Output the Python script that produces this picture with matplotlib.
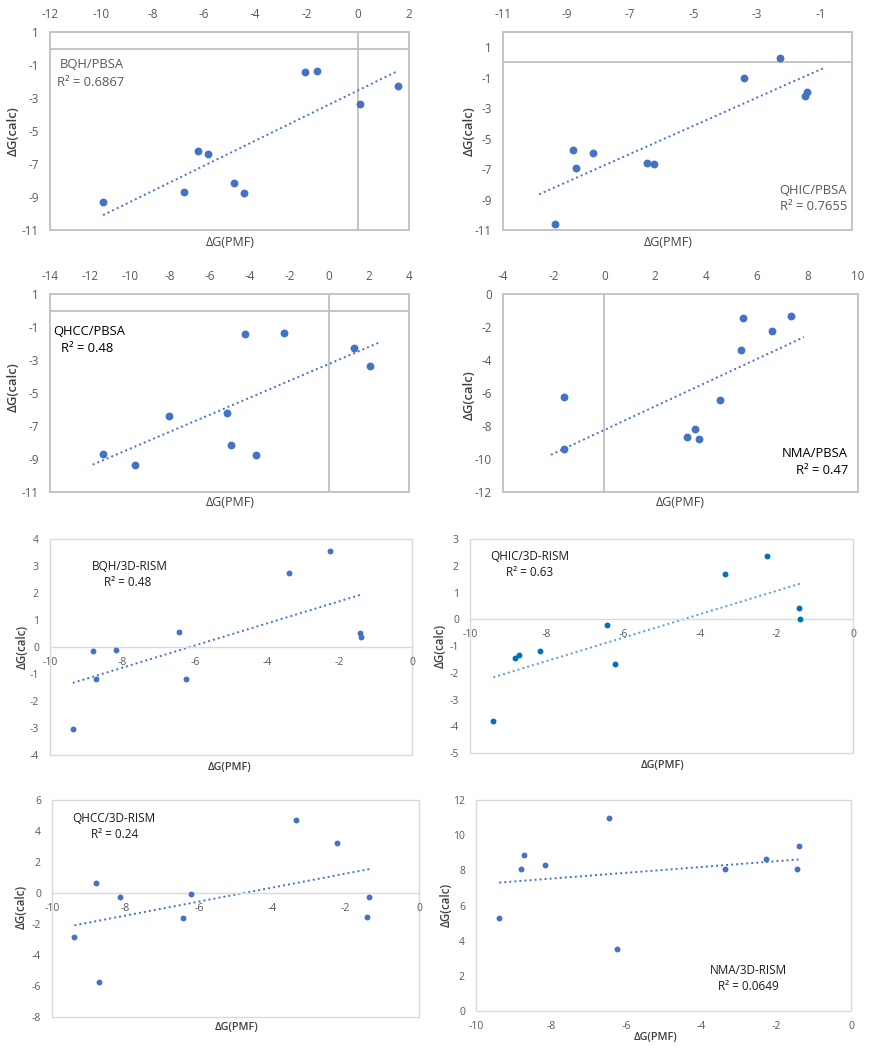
import numpy as np
import matplotlib
matplotlib.use("Agg")
import matplotlib.pyplot as plt
from matplotlib.patches import Rectangle

plt.rcParams['font.family'] = ['Open Sans', 'DejaVu Sans']

W, H = 872, 1050

# ---------------- data ----------------
p1_x = [-9.93, -6.78, -4.45, -4.82, -5.85, -6.21, 0.09, 1.56, -2.07, -1.59]
p1_y = [-9.32, -8.70, -8.78, -8.13, -6.40, -6.22, -3.38, -2.25, -1.40, -1.36]

p2_x = [-9.36, -8.79, -8.71, -8.16, -6.45, -6.24, -3.40, -2.28, -1.48, -1.42]
p2_y = [-10.63, -5.75, -6.93, -5.92, -6.62, -6.69, -1.02, 0.29, -2.20, -1.96]

p3_x = [-9.74, -11.36, -3.65, -4.91, -8.04, -5.13, 2.03, 1.24, -4.22, -2.28]
p3_y = [-9.38, -8.70, -8.78, -8.13, -6.41, -6.23, -3.38, -2.25, -1.42, -1.36]

p4_x = [-1.61, 3.24, 3.73, 3.56, 4.56, -1.58, 5.37, 6.61, 5.48, 7.37]
p4_y = [-9.37, -8.69, -8.81, -8.16, -6.44, -6.22, -3.37, -2.26, -1.43, -1.35]

p5_x = [-9.37, -8.80, -8.72, -8.17, -6.45, -6.24, -3.39, -2.27, -1.45, -1.41]
p5_y = [-3.04, -0.15, -1.20, -0.11, 0.56, -1.20, 2.75, 3.56, 0.53, 0.38]

p6_x = [-9.39, -8.82, -8.71, -8.17, -6.43, -6.22, -3.35, -2.24, -1.42, -1.38]
p6_y = [-3.81, -1.43, -1.35, -1.18, -0.23, -1.68, 1.71, 2.35, 0.42, 0.01]

p7_x = [-9.39, -8.80, -8.72, -8.14, -6.43, -6.20, -3.35, -2.23, -1.41, -1.35]
p7_y = [-2.87, 0.65, -5.71, -0.23, -1.64, -0.06, 4.72, 3.25, -1.58, -0.28]

p8_x = [-9.38, -8.80, -8.73, -8.17, -6.45, -6.23, -3.37, -2.26, -1.43, -1.38]
p8_y = [5.28, 8.08, 8.86, 8.29, 10.99, 3.52, 8.08, 8.65, 8.08, 9.39]

labels = ["BQH/PBSA", "QHIC/PBSA", "QHCC/PBSA", "NMA/PBSA",
          "BQH/3D-RISM", "QHIC/3D-RISM", "QHCC/3D-RISM", "NMA/3D-RISM"]
r2_text = ["R² = 0.6867", "R² = 0.7655", "R² = 0.48", "R² = 0.47",
           "R² = 0.48", "R² = 0.63", "R² = 0.24", "R² = 0.0649"]

x_ticks = [np.arange(-12, 3, 2), np.arange(-11, 0, 2), np.arange(-14, 5, 2), np.arange(-4, 11, 2),
           np.arange(-10, 1, 2), np.arange(-10, 1, 2), np.arange(-10, 1, 2), np.arange(-10, 1, 2)]
y_ticks = [np.arange(-11, 2, 2), np.arange(-11, 2, 2), np.arange(-11, 2, 2), np.arange(-12, 1, 2),
           np.arange(-4, 5, 1), np.arange(-5, 4, 1), np.arange(-8, 7, 2), np.arange(0, 13, 2)]
x_lims = [(-12, 2), (-11, 0), (-14, 4), (-4, 10), (-10, 0), (-10, 0), (-10, 0), (-10, 0)]
y_lims = [(-11, 1), (-11, 2), (-11, 1), (-12, 0), (-4, 4), (-5, 3), (-8, 6), (0, 12)]

xs = [p1_x, p2_x, p3_x, p4_x, p5_x, p6_x, p7_x, p8_x]
ys = [p1_y, p2_y, p3_y, p4_y, p5_y, p6_y, p7_y, p8_y]

# ---------------- layout / style ----------------
boxes = [(50, 32, 409, 230), (503, 32, 852, 230),
         (50, 294, 409, 492), (503, 294, 858, 492),
         (50, 539, 412, 755), (470, 539, 853, 753),
         (52, 800, 419, 1017), (476, 800, 851, 1011)]
trend_ext = [0, 0.5, 0.5, 0.5, 0, 0, 0, 0]
marker_col = ['#4472C4'] * 5 + ['#0070C0'] + ['#4472C4'] * 2
trend_col = ['#4472C4'] * 5 + ['#5B9BD5'] + ['#4472C4'] * 2
text_pos = [(60, 65, 'left'), (847, 190, 'right'), (53, 331, 'left'), (848, 453, 'right'),
            (130, 566, 'center'), (530, 557, 'center'), (114, 818, 'center'), (748, 970, 'center')]
r2_pos = [(57, 82, 'left'), (847, 206, 'right'), (113, 348, 'right'), (822, 470, 'center'),
          (128, 582, 'center'), (530, 573, 'center'), (115, 834, 'center'), (748, 987, 'center')]
text_col = ['#595959', '#595959', '#000000', '#000000', '#1a1a1a', '#1a1a1a', '#1a1a1a', '#1a1a1a']
xlab_pos = [(230, 242), (668, 242), (230, 503), (680, 503), (230, 767), (663, 765), (237, 1027), (656, 1037)]
ylab_pos = [(13, 131), (469, 131), (13, 387), (469, 395), (22, 647), (440, 646), (21, 907), (446, 905)]

fig = plt.figure(figsize=(W / 100, H / 100), dpi=100)

for i in range(8):
    l, t, r, b = boxes[i]
    ax = fig.add_axes([l / W, 1 - b / H, (r - l) / W, (b - t) / H])
    top = i < 4
    border_col = '#BFBFBF' if top else '#D9D9D9'
    border_lw = 1.3 if top else 1.0
    for s in ax.spines.values():
        s.set_visible(False)
    ax.add_patch(Rectangle((0, 0), 1, 1, transform=ax.transAxes, fill=False,
                           edgecolor=border_col, lw=border_lw, zorder=1, clip_on=False))
    ax.set_xlim(*x_lims[i])
    ax.set_ylim(*y_lims[i])
    ax.set_xticks(x_ticks[i])
    ax.set_yticks(y_ticks[i])
    ax.set_xticklabels([f"{v:g}" for v in x_ticks[i]])
    ax.set_yticklabels([f"{v:g}" for v in y_ticks[i]])
    fs = 8.4 if top else 7.5
    ax.tick_params(length=0, labelsize=fs, colors='#595959')
    ax.tick_params(axis='y', pad=8)
    if top:
        ax.xaxis.tick_top()
        ax.tick_params(axis='x', pad=8)
        if y_lims[i][0] < 0 < y_lims[i][1]:
            ax.axhline(0, color=border_col, lw=border_lw, zorder=1)
        if x_lims[i][0] < 0 < x_lims[i][1]:
            ax.axvline(0, color=border_col, lw=border_lw, zorder=1)
    else:
        if y_lims[i][0] < 0:
            ax.spines['bottom'].set_visible(True)
            ax.spines['bottom'].set_position(('data', 0))
            ax.spines['bottom'].set_color(border_col)
            ax.spines['bottom'].set_linewidth(border_lw)
        ax.tick_params(axis='x', pad=7)
    for lab in ax.get_xticklabels() + ax.get_yticklabels():
        lab.set_color('#595959')

    x = np.array(xs[i]); y = np.array(ys[i])
    ms = 32 if top else 18
    ax.scatter(x, y, s=ms, color=marker_col[i], zorder=3, linewidths=0)
    k, c = np.polyfit(x, y, 1)
    xt = np.array([x.min() - trend_ext[i], x.max() + trend_ext[i]])
    ax.plot(xt, k * xt + c, color=trend_col[i], lw=1.4, linestyle=(0, (1, 1.6)), zorder=2)

    tfs = 9.4 if top else 8.5
    tw = 'normal' if top else 'medium'
    tx, ty, ha = text_pos[i]
    fig.text(tx / W, 1 - ty / H, labels[i], ha=ha, va='center', fontsize=tfs, color=text_col[i],
             fontweight=tw)
    rx, ry, rha = r2_pos[i]
    fig.text(rx / W, 1 - ry / H, r2_text[i], ha=rha, va='center', fontsize=tfs, color=text_col[i],
             fontweight=tw)

    lfs = 9.0 if top else 7.8
    lx, ly = xlab_pos[i]
    fig.text(lx / W, 1 - ly / H, "ΔG(PMF)", ha='center', va='center', fontsize=lfs, color='#404040',
             fontweight='normal' if top else 'semibold')
    yx, yy = ylab_pos[i]
    fig.text(yx / W, 1 - yy / H, "ΔG(calc)", ha='center', va='center', rotation=90,
             fontsize=(9.4 if top else 8.3), color='#404040', fontweight='semibold')

fig.savefig("out.png", dpi=100)
